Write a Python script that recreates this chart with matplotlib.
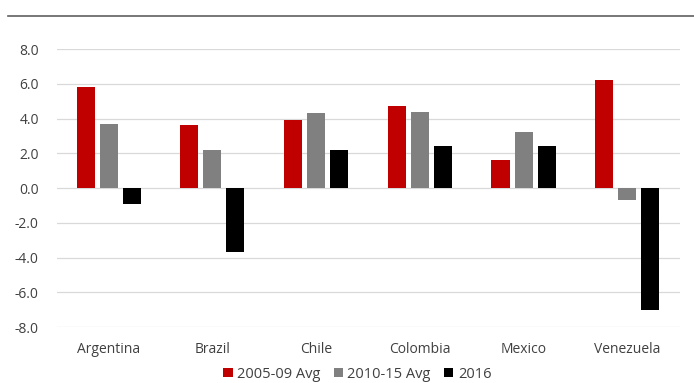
import numpy as np
import matplotlib
matplotlib.use("Agg")
import matplotlib.pyplot as plt
from matplotlib.lines import Line2D

plt.rcParams['font.family'] = ['Open Sans', 'DejaVu Sans']

countries = ["Argentina", "Brazil", "Chile", "Colombia", "Mexico", "Venezuela"]
avg_05_09 = [5.8, 3.6, 3.9, 4.7, 1.6, 6.2]
avg_10_15 = [3.7, 2.2, 4.3, 4.4, 3.2, -0.7]
y2016 = [-0.9, -3.7, 2.2, 2.4, 2.4, -7.0]
series_names = ["2005-09 Avg", "2010-15 Avg", "2016"]
colors = ["#C00000", "#808080", "#000000"]

fig = plt.figure(figsize=(6.94, 3.83), dpi=100)
ax = fig.add_axes([0.082, 0.146, 0.898, 0.726])

x = np.arange(len(countries))
w = 0.174
step = 0.222
for i, (vals, name, c) in enumerate(zip([avg_05_09, avg_10_15, y2016], series_names, colors)):
    ax.bar(x + (i - 1) * step, vals, width=w, color=c, label=name, zorder=3)

ax.set_ylim(-8, 8)
ax.set_yticks(np.arange(-8, 8.1, 2))
ax.set_yticklabels([f"{v:.1f}" for v in np.arange(-8, 8.1, 2)])
ax.set_xlim(-0.5, 5.51)
ax.set_xticks(x)
ax.set_xticklabels(countries)
ax.grid(axis='y', color='#D9D9D9', linewidth=0.9, zorder=0)
for s in ax.spines.values():
    s.set_visible(False)
ax.tick_params(length=0, labelsize=10, colors='#404040')
ax.tick_params(axis='y', pad=13)
ax.tick_params(axis='x', pad=11)

ax.legend(loc='upper center', bbox_to_anchor=(0.482, -0.095), ncol=3, frameon=False,
          fontsize=10.5, handlelength=0.65, handleheight=0.65, handletextpad=0.3,
          columnspacing=0.9, labelcolor='#404040')

# rule under the (cropped) title
fig.add_artist(Line2D([0.012, 1.0], [1 - 16 / 383, 1 - 16 / 383], color='#606060',
                      linewidth=1.2, transform=fig.transFigure))

fig.savefig("out.png", dpi=100)
